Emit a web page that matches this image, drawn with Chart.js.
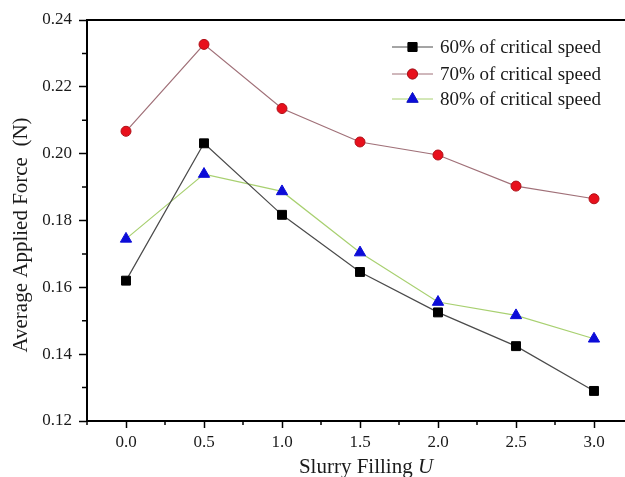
<!DOCTYPE html>
<html>
<head>
<meta charset="utf-8">
<script src="https://cdn.jsdelivr.net/npm/chart.js@4.4.1/dist/chart.umd.min.js"></script>
<style>
  html, body { margin: 0; padding: 0; background: #fff; overflow: hidden; }
  #wrap { width: 625px; height: 477px; overflow: hidden; }
</style>
</head>
<body>
<div id="wrap"><canvas id="chart" width="700" height="477"></canvas></div>
<script>
// Data
const filling = [0.0, 0.5, 1.0, 1.5, 2.0, 2.5, 3.0];
const speed60 = [0.162, 0.2031, 0.1817, 0.1646, 0.1525, 0.1424, 0.129];
const speed70 = [0.2067, 0.2327, 0.2135, 0.2035, 0.1996, 0.1903, 0.1865];
const speed80 = [0.1745, 0.1939, 0.1887, 0.1704, 0.1556, 0.1516, 0.1446];
const seriesNames = ['60% of critical speed', '70% of critical speed', '80% of critical speed'];

const xTicks = [0.0, 0.5, 1.0, 1.5, 2.0, 2.5, 3.0];
const xMinor = [-0.25, 0.25, 0.75, 1.25, 1.75, 2.25, 2.75, 3.25];
const yTicks = [0.12, 0.14, 0.16, 0.18, 0.20, 0.22, 0.24];
const yMinor = [0.13, 0.15, 0.17, 0.19, 0.21, 0.23];

const serif = '"Liberation Serif", "Times New Roman", serif';

function pts(vals) {
  return filling.map((x, i) => ({ x: x, y: vals[i] }));
}

// minor ticks, top frame, axis titles and the in-plot legend
const extras = {
  id: 'extras',
  afterDraw(chart) {
    const ctx = chart.ctx;
    const a = chart.chartArea;
    const xs = chart.scales.x, ys = chart.scales.y;
    ctx.save();
    ctx.strokeStyle = '#000';
    ctx.lineWidth = 1.5;
    ctx.beginPath();
    xMinor.forEach(v => {
      const px = xs.getPixelForValue(v);
      ctx.moveTo(px, a.bottom);
      ctx.lineTo(px, a.bottom + 4);
    });
    yMinor.forEach(v => {
      const py = ys.getPixelForValue(v);
      ctx.moveTo(a.left, py);
      ctx.lineTo(a.left - 5, py);
    });
    ctx.stroke();

    // top frame (right side falls outside the picture)
    ctx.lineWidth = 2;
    ctx.beginPath();
    ctx.moveTo(a.left, a.top);
    ctx.lineTo(a.right, a.top);
    ctx.stroke();

    // x title with italic U
    ctx.fillStyle = '#1a1a1a';
    ctx.textBaseline = 'alphabetic';
    ctx.textAlign = 'left';
    ctx.font = '21px ' + serif;
    const t1 = 'Slurry Filling ';
    const w1 = ctx.measureText(t1).width;
    ctx.font = 'italic 21px ' + serif;
    const w2 = ctx.measureText('U').width;
    const cx = (a.left + a.right) / 2 + 6;
    const x0 = cx - (w1 + w2) / 2;
    ctx.font = '21px ' + serif;
    ctx.fillText(t1, x0, 473);
    ctx.font = 'italic 21px ' + serif;
    ctx.fillText('U', x0 + w1, 473);

    // y title
    ctx.save();
    ctx.translate(21, 235);
    ctx.rotate(-Math.PI / 2);
    ctx.font = '21px ' + serif;
    ctx.textAlign = 'center';
    ctx.textBaseline = 'middle';
    ctx.fillText('Average Applied Force  (N)', 0, 0);
    ctx.restore();

    // legend
    const rows = [47, 74, 99];
    chart.data.datasets.forEach((ds, i) => {
      const y = rows[i];
      const lx = a.right - 241;
      ctx.strokeStyle = ds.borderColor;
      ctx.lineWidth = 1;
      ctx.beginPath();
      ctx.moveTo(lx, y);
      ctx.lineTo(lx + 41, y);
      ctx.stroke();
      Chart.helpers.drawPoint(ctx, {
        pointStyle: ds.pointStyle,
        radius: ds.pointRadius,
        borderWidth: 1,
        rotation: 0
      }, lx + 20.5, y);
      ctx.fillStyle = ds.pointBackgroundColor;
      ctx.strokeStyle = ds.pointBorderColor;
      ctx.fill();
      ctx.stroke();
      ctx.fillStyle = '#1a1a1a';
      ctx.font = '19px ' + serif;
      ctx.textAlign = 'left';
      ctx.textBaseline = 'middle';
      ctx.fillText(ds.label, a.right - 193, y + 1);
    });
    ctx.restore();
  }
};

new Chart(document.getElementById('chart'), {
  type: 'line',
  data: {
    datasets: [{
      label: seriesNames[0],
      data: pts(speed60),
      borderColor: '#4a4a4a',
      borderWidth: 1.2,
      pointStyle: 'rect',
      pointRadius: 6.3,
      pointBackgroundColor: '#000000',
      pointBorderColor: '#000000',
      pointBorderWidth: 1
    }, {
      label: seriesNames[1],
      data: pts(speed70),
      borderColor: '#a07078',
      borderWidth: 1.2,
      pointStyle: 'circle',
      pointRadius: 5,
      pointBackgroundColor: '#e8101c',
      pointBorderColor: '#b01018',
      pointBorderWidth: 1
    }, {
      label: seriesNames[2],
      data: pts(speed80),
      borderColor: '#a8d070',
      borderWidth: 1.2,
      pointStyle: 'triangle',
      pointRadius: 6.5,
      pointBackgroundColor: '#0c0cd8',
      pointBorderColor: '#0c0cd8',
      pointBorderWidth: 1
    }]
  },
  options: {
    responsive: false,
    animation: false,
    devicePixelRatio: 1,
    layout: { padding: { left: 0, top: 20, right: 67, bottom: 0 } },
    plugins: {
      legend: { display: false },
      tooltip: { enabled: false }
    },
    scales: {
      x: {
        type: 'linear',
        min: -0.25,
        max: 3.25,
        afterBuildTicks: s => { s.ticks = xTicks.map(v => ({ value: v })); },
        afterFit: s => { s.height = 56; },
        grid: { drawOnChartArea: false, tickLength: 7, tickColor: '#000', tickWidth: 1.5 },
        border: { color: '#000', width: 2 },
        ticks: {
          padding: 4,
          color: '#1a1a1a',
          font: { family: serif, size: 17 },
          maxRotation: 0,
          callback: v => v.toFixed(1)
        }
      },
      y: {
        min: 0.12,
        max: 0.24,
        afterBuildTicks: s => { s.ticks = yTicks.map(v => ({ value: v })); },
        afterFit: s => { s.width = 87; },
        grid: { drawOnChartArea: false, tickLength: 8, tickColor: '#000', tickWidth: 1.5 },
        border: { color: '#000', width: 2 },
        ticks: {
          padding: 7,
          color: '#1a1a1a',
          font: { family: serif, size: 17 },
          callback: v => v.toFixed(2)
        }
      }
    }
  },
  plugins: [extras]
});
</script>
</body>
</html>
